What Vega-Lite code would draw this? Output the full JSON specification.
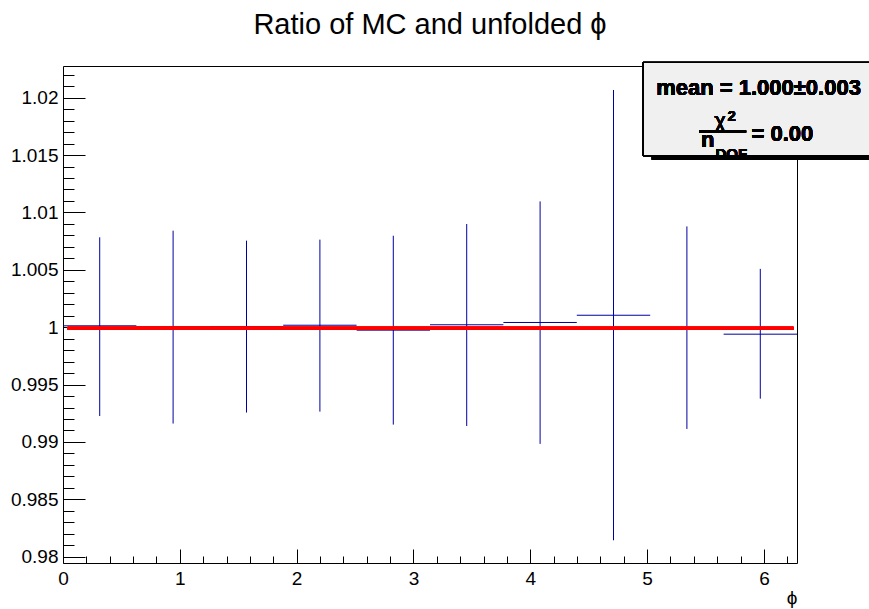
{
  "$schema": "https://vega.github.io/schema/vega-lite/v6.json",
  "width": 734,
  "height": 497,
  "autosize": {"type": "none"},
  "padding": {"left": 63, "top": 66, "right": 72, "bottom": 46},
  "background": "white",
  "config": {"view": {"stroke": "black", "strokeWidth": 1}, "font": "Liberation Sans"},
  "title": {"text": "Ratio of MC and unfolded ϕ", "frame": "group", "anchor": "middle", "fontSize": 29, "fontWeight": "normal", "font": "Liberation Sans", "offset": 22, "color": "black"},
  "data": {"values": [
    {"x": 0.3142, "x0": 0.0, "x1": 0.6283, "y": 1.00012, "lo": 0.99226, "hi": 1.00783},
    {"x": 0.9425, "x0": 0.6283, "x1": 1.2566, "y": 1.00003, "lo": 0.99160, "hi": 1.00841},
    {"x": 1.5708, "x0": 1.2566, "x1": 1.8850, "y": 1.00006, "lo": 0.99256, "hi": 1.00754},
    {"x": 2.1991, "x0": 1.8850, "x1": 2.5133, "y": 1.00017, "lo": 0.99264, "hi": 1.00763},
    {"x": 2.8274, "x0": 2.5133, "x1": 3.1416, "y": 0.99974, "lo": 0.99151, "hi": 1.00797},
    {"x": 3.4558, "x0": 3.1416, "x1": 3.7699, "y": 1.00021, "lo": 0.99139, "hi": 1.00899},
    {"x": 4.0841, "x0": 3.7699, "x1": 4.3982, "y": 1.00041, "lo": 0.98983, "hi": 1.01096},
    {"x": 4.7124, "x0": 4.3982, "x1": 5.0265, "y": 1.00104, "lo": 0.98143, "hi": 1.02067},
    {"x": 5.3407, "x0": 5.0265, "x1": 5.6549, "y": 0.99995, "lo": 0.99113, "hi": 1.00878},
    {"x": 5.9690, "x0": 5.6549, "x1": 6.2832, "y": 0.99939, "lo": 0.99377, "hi": 1.00508}
  ]},
  "layer": [
    {
      "mark": {"type": "rule", "color": "#0000a0", "strokeWidth": 1},
      "encoding": {
        "x": {"field": "x", "type": "quantitative",
          "scale": {"domain": [0, 6.2832], "nice": false, "zero": false},
          "axis": {
            "values": [0,0.2,0.4,0.6,0.8,1,1.2,1.4,1.6,1.8,2,2.2,2.4,2.6,2.8,3,3.2,3.4,3.6,3.8,4,4.2,4.4,4.6,4.8,5,5.2,5.4,5.6,5.8,6,6.2],
            "tickCount": 200,
            "labelExpr": "abs(datum.value - round(datum.value)) < 0.001 ? format(datum.value, 'd') : ''",
            "tickSize": {"condition": {"test": "abs(datum.value - round(datum.value)) < 0.001", "value": -14}, "value": -7},
            "tickColor": "black", "tickWidth": 1, "domain": false, "grid": false,
            "labelFontSize": 19, "labelFont": "Liberation Sans", "labelColor": "black", "labelPadding": 20,
            "labelFlush": false, "labelOverlap": false,
            "title": "ϕ", "titleFontSize": 19, "titleFont": "Liberation Sans", "titleFontWeight": "normal", "titleColor": "black",
            "titleAnchor": "end", "titleAlign": "right", "titlePadding": -7
          }},
        "y": {"field": "lo", "type": "quantitative",
          "scale": {"domain": [0.97945, 1.02276], "nice": false, "zero": false},
          "axis": {
            "values": [0.98,0.981,0.982,0.983,0.984,0.985,0.986,0.987,0.988,0.989,0.99,0.991,0.992,0.993,0.994,0.995,0.996,0.997,0.998,0.999,1,1.001,1.002,1.003,1.004,1.005,1.006,1.007,1.008,1.009,1.01,1.011,1.012,1.013,1.014,1.015,1.016,1.017,1.018,1.019,1.02,1.021,1.022],
            "tickCount": 200,
            "labelExpr": "abs(datum.value*200 - round(datum.value*200)) < 0.01 ? format(datum.value, '~g') : ''",
            "tickSize": {"condition": {"test": "abs(datum.value*200 - round(datum.value*200)) < 0.01", "value": -22}, "value": -11},
            "tickColor": "black", "tickWidth": 1, "domain": false, "grid": false,
            "labelFontSize": 19, "labelFont": "Liberation Sans", "labelColor": "black", "labelPadding": 27,
            "labelFlush": false, "labelOverlap": false, "title": null
          }},
        "y2": {"field": "hi"}
      }
    },
    {
      "mark": {"type": "rule", "color": "#0000a0", "strokeWidth": 1},
      "encoding": {
        "x": {"field": "x0", "type": "quantitative"},
        "x2": {"field": "x1"},
        "y": {"field": "y", "type": "quantitative"}
      }
    },
    {
      "mark": {"type": "rule", "color": "#ff0000", "strokeWidth": 3},
      "encoding": {
        "x": {"datum": 0.04, "type": "quantitative"},
        "x2": {"datum": 6.253},
        "y": {"datum": 0.99991, "type": "quantitative"}
      }
    },
    {
      "mark": {"type": "rect", "fill": "#f0f0f0", "strokeWidth": 0},
      "encoding": {
        "x": {"datum": 4.966, "type": "quantitative"},
        "x2": {"datum": 7.5},
        "y": {"datum": 1.02308, "type": "quantitative"},
        "y2": {"datum": 1.01493}
      }
    },
    {
      "mark": {"type": "text", "text": "mean = 1.000±0.003", "fontSize": 22, "fontWeight": "bold", "font": "Liberation Sans", "align": "center", "baseline": "alphabetic", "color": "black"},
      "encoding": {"x": {"datum": 5.954, "type": "quantitative"}, "y": {"datum": 1.02023, "type": "quantitative"}}
    },
    {
      "mark": {"type": "text", "text": "χ", "fontSize": 22, "font": "Liberation Sans", "align": "center", "baseline": "alphabetic", "color": "black"},
      "encoding": {"x": {"datum": 5.625, "type": "quantitative"}, "y": {"datum": 1.01737, "type": "quantitative"}}
    },
    {
      "mark": {"type": "text", "text": "2", "fontSize": 15, "fontWeight": "bold", "font": "Liberation Sans", "align": "center", "baseline": "alphabetic", "color": "black"},
      "encoding": {"x": {"datum": 5.725, "type": "quantitative"}, "y": {"datum": 1.0180, "type": "quantitative"}}
    },
    {
      "mark": {"type": "rule", "color": "black", "strokeWidth": 2},
      "encoding": {"x": {"datum": 5.445, "type": "quantitative"}, "x2": {"datum": 5.848}, "y": {"datum": 1.017043, "type": "quantitative"}}
    },
    {
      "mark": {"type": "text", "text": "n", "fontSize": 22, "fontWeight": "bold", "font": "Liberation Sans", "align": "center", "baseline": "alphabetic", "color": "black"},
      "encoding": {"x": {"datum": 5.52, "type": "quantitative"}, "y": {"datum": 1.01574, "type": "quantitative"}}
    },
    {
      "mark": {"type": "text", "text": "DOF", "fontSize": 15, "fontWeight": "bold", "font": "Liberation Sans", "align": "center", "baseline": "alphabetic", "color": "black"},
      "encoding": {"x": {"datum": 5.72, "type": "quantitative"}, "y": {"datum": 1.01467, "type": "quantitative"}}
    },
    {
      "mark": {"type": "text", "text": "= 0.00", "fontSize": 22, "fontWeight": "bold", "font": "Liberation Sans", "align": "center", "baseline": "alphabetic", "color": "black"},
      "encoding": {"x": {"datum": 6.158, "type": "quantitative"}, "y": {"datum": 1.01626, "type": "quantitative"}}
    },
    {
      "mark": {"type": "rect", "fill": "black", "strokeWidth": 0},
      "encoding": {
        "x": {"datum": 5.04, "type": "quantitative"},
        "x2": {"datum": 7.5},
        "y": {"datum": 1.01493, "type": "quantitative"},
        "y2": {"datum": 1.01459}
      }
    },
    {
      "mark": {"type": "rect", "fill": null, "fillOpacity": 0, "stroke": "black", "strokeWidth": 1},
      "encoding": {
        "x": {"datum": 4.966, "type": "quantitative"},
        "x2": {"datum": 7.5},
        "y": {"datum": 1.02308, "type": "quantitative"},
        "y2": {"datum": 1.01493}
      }
    }
  ]
}
